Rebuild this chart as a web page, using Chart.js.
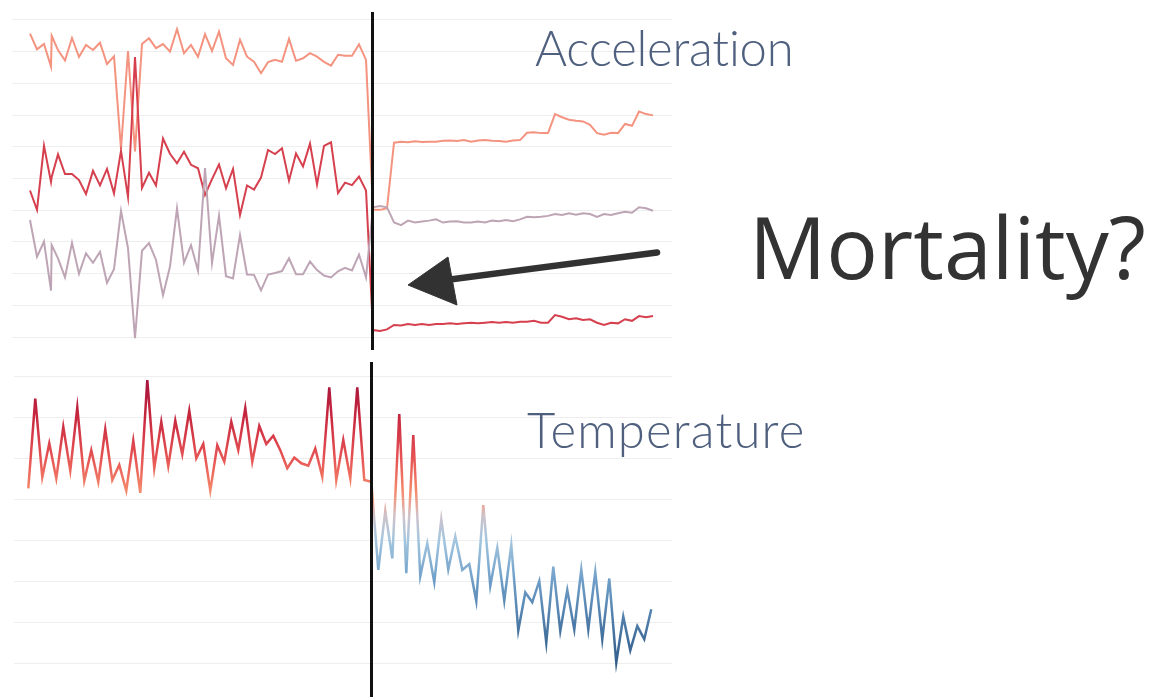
<!DOCTYPE html>
<html>
<head>
<meta charset="utf-8">
<script src="https://cdn.jsdelivr.net/npm/chart.js@4.4.1/dist/chart.umd.min.js"></script>
<style>
  html, body { margin: 0; padding: 0; background: #fff; }
  body { width: 1155px; height: 697px; position: relative; overflow: hidden; }
  .box { position: absolute; }
  .label { position: absolute; white-space: nowrap; line-height: 1; }
  .panel-title { font-family: "Lato", sans-serif; font-weight: 300; font-size: 49px; color: #4f607e; }
  #mortality { font-family: "Open Sans", sans-serif; font-size: 86px; color: #333; left: 749px; top: 203px; }
</style>
</head>
<body>
<div class="box" id="accelBox" style="left:12px; top:12px; width:660px; height:338px;"><canvas id="chartAccel"></canvas></div>
<div class="box" id="tempBox" style="left:14px; top:362px; width:658px; height:335px;"><canvas id="chartTemp"></canvas></div>

<div class="label panel-title" style="left:535px; top:23px; letter-spacing:-0.2px;">Acceleration</div>
<div class="label panel-title" style="left:527px; top:405px; letter-spacing:1.2px;">Temperature</div>
<div class="label" id="mortality">Mortality?</div>

<svg class="box" style="left:0; top:0;" width="1155" height="697">
  <defs><filter id="soft"><feGaussianBlur stdDeviation="0.7"/></filter></defs>
  <g filter="url(#soft)" fill="#333" stroke="#333">
    <line x1="450" y1="279.5" x2="657" y2="252.5" stroke-width="6.5" stroke-linecap="round"/>
    <polygon points="408,285 448,257 457,305" stroke-width="1" stroke-linejoin="round"/>
  </g>
</svg>

<script>
/* time steps (sample index); the acceleration trace has one extra sample just after step 3 */
const accelSteps = [0, 1, 2, 3, 3.1].concat(Array.from({ length: 86 }, (_, i) => i + 4));
const tempSteps = Array.from({ length: 90 }, (_, i) => i);

/* acceleration, three axes (arbitrary units, 1 unit = one gridline) */
const accelHigh = [9.57, 9.07, 9.24, 8.53, 9.50, 9.05, 8.72, 9.43, 8.83, 9.21, 9.05, 9.28, 8.61, 8.85, 5.93, 9.02,
  5.85, 9.24, 9.42, 9.11, 9.24, 9.00, 9.71, 8.95, 9.21, 8.84, 9.55, 9.02, 9.63, 8.79, 8.58, 9.37, 8.84, 8.68, 8.32,
  8.67, 8.74, 8.68, 9.40, 8.71, 8.79, 8.95, 8.84, 8.68, 8.56, 8.90, 8.87, 8.87, 9.23, 8.74,
  4.01, 4.01, 4.06, 6.13, 6.16, 6.14, 6.17, 6.15, 6.16, 6.16, 6.19, 6.20, 6.18, 6.21, 6.16, 6.20, 6.21, 6.19, 6.18,
  6.16, 6.20, 6.21, 6.44, 6.46, 6.43, 6.43, 7.03, 6.93, 6.85, 6.82, 6.80, 6.69, 6.43, 6.38, 6.44, 6.43, 6.72, 6.66,
  7.11, 7.03, 6.99];
const accelMid = [4.62, 4.01, 6.03, 4.89, 5.05, 5.76, 5.14, 5.14, 4.95, 4.51, 5.24, 4.78, 5.30, 4.53, 5.87, 4.42,
  8.83, 4.70, 5.18, 4.78, 6.26, 5.78, 5.48, 5.84, 5.43, 5.32, 4.48, 4.98, 5.44, 4.69, 5.30, 3.85, 4.78, 4.65, 5.03,
  5.90, 5.77, 5.95, 4.93, 5.79, 5.38, 6.10, 4.81, 6.03, 6.14, 4.54, 4.87, 4.79, 5.06, 4.62,
  0.22, 0.19, 0.24, 0.38, 0.36, 0.41, 0.38, 0.41, 0.38, 0.41, 0.41, 0.43, 0.41, 0.43, 0.45, 0.43, 0.45, 0.47, 0.45,
  0.47, 0.45, 0.48, 0.48, 0.51, 0.45, 0.45, 0.69, 0.64, 0.56, 0.59, 0.54, 0.56, 0.45, 0.38, 0.45, 0.43, 0.56, 0.51,
  0.66, 0.62, 0.66];
const accelLow = [3.69, 2.53, 3.01, 1.46, 2.90, 2.48, 1.88, 2.97, 1.99, 2.64, 2.34, 2.69, 1.71, 2.14, 3.98, 2.80,
  -0.04, 2.72, 2.96, 2.43, 1.32, 2.22, 4.06, 2.34, 2.90, 2.09, 5.33, 2.33, 3.83, 1.92, 1.85, 3.22, 1.97, 1.96, 1.47,
  1.97, 2.02, 2.08, 2.48, 1.98, 1.98, 2.38, 2.11, 1.94, 1.88, 2.07, 2.18, 2.10, 2.60, 1.88,
  4.09, 4.13, 4.09, 3.61, 3.53, 3.67, 3.61, 3.64, 3.67, 3.71, 3.61, 3.64, 3.65, 3.61, 3.61, 3.64, 3.61, 3.67, 3.65,
  3.69, 3.65, 3.71, 3.79, 3.78, 3.79, 3.82, 3.88, 3.85, 3.90, 3.86, 3.90, 3.88, 3.79, 3.88, 3.85, 3.90, 3.95, 3.92,
  4.09, 4.06, 3.98];

/* temperature (arbitrary units, 1 unit = one gridline) */
const temperature = [4.27, 6.46, 4.54, 5.37, 4.51, 5.77, 4.70, 6.24, 4.45, 5.20, 4.43, 5.71, 4.47, 4.84, 4.21, 5.43,
  4.16, 6.91, 4.76, 5.89, 4.81, 5.92, 5.10, 6.16, 5.00, 5.35, 4.21, 5.32, 4.92, 5.89, 5.20, 6.23, 4.92, 5.79, 5.35,
  5.55, 5.20, 4.76, 5.02, 4.88, 4.82, 5.24, 4.55, 6.73, 4.47, 5.45, 4.51, 6.73, 4.47, 4.43,
  2.28, 3.71, 2.56, 6.08, 2.20, 5.57, 2.13, 2.93, 1.98, 3.51, 2.29, 3.10, 2.28, 2.42, 1.52, 3.86, 1.89, 2.82, 1.53,
  2.89, 0.80, 1.73, 1.49, 2.01, 0.51, 2.36, 0.79, 1.79, 0.83, 2.29, 0.83, 2.23, 0.59, 2.07, 0.02, 1.14, 0.32, 0.91,
  0.59, 1.32];

const accelGrid = [0, 1, 2, 3, 4, 5, 6, 7, 8, 9, 10];
const tempGrid = [0, 1, 2, 3, 4, 5, 6, 7];
const eventStep = 48.9;   // the black "event" line

/* temperature colour ramp: value -> colour */
const tempRamp = [
  [7.0, "#a3123b"], [6.0, "#c8283f"], [5.0, "#e65454"], [4.2, "#f48a6c"],
  [3.85, "#e7a99c"], [3.6, "#cfc3cb"], [3.0, "#a3c6df"], [2.0, "#6d9dc7"],
  [0.5, "#3f6b99"], [0.0, "#355e8b"]
];

function pts(xs, ys) { return xs.map((x, i) => ({ x, y: ys[i] })); }

const eventLine = {
  id: "eventLine",
  afterDatasetsDraw(chart) {
    const c = chart.ctx;
    const x = Math.round(chart.scales.x.getPixelForValue(eventStep)) + 0.5;
    c.save();
    c.strokeStyle = "#111";
    c.lineWidth = 3;
    c.beginPath();
    c.moveTo(x, 0);
    c.lineTo(x, chart.height);
    c.stroke();
    c.restore();
  }
};

function baseOptions(xMin, xMax, yMin, yMax, grid) {
  return {
    responsive: true,
    maintainAspectRatio: false,
    animation: false,
    layout: { padding: 0 },
    plugins: { legend: { display: false }, tooltip: { enabled: false } },
    elements: { point: { radius: 0 }, line: { tension: 0 } },
    scales: {
      x: { type: "linear", min: xMin, max: xMax, display: false },
      y: {
        type: "linear", min: yMin, max: yMax,
        afterBuildTicks: s => { s.ticks = grid.map(v => ({ value: v })); },
        ticks: { display: false },
        border: { display: false },
        grid: { color: "#eeeeee", lineWidth: 1, drawTicks: false }
      }
    }
  };
}

let tempGradient = null;
function tempColor(ctx) {
  const chart = ctx.chart;
  if (!chart.chartArea) return "#e65454";
  if (!tempGradient) {
    const y = chart.scales.y;
    const top = y.getPixelForValue(tempRamp[0][0]);
    const bot = y.getPixelForValue(tempRamp[tempRamp.length - 1][0]);
    tempGradient = chart.ctx.createLinearGradient(0, top, 0, bot);
    tempRamp.forEach(([v, col]) => {
      tempGradient.addColorStop((y.getPixelForValue(v) - top) / (bot - top), col);
    });
  }
  return tempGradient;
}

document.addEventListener("DOMContentLoaded", () => {
  new Chart(document.getElementById("chartAccel"), {
    type: "line",
    data: {
      datasets: [
        { data: pts(accelSteps, accelHigh), borderColor: "#f4937f", borderWidth: 2, order: 2 },
        { data: pts(accelSteps, accelMid), borderColor: "#d6404e", borderWidth: 2, order: 1 },
        { data: pts(accelSteps, accelLow), borderColor: "#bea5b5", borderWidth: 2, order: 0 }
      ]
    },
    options: baseOptions(-2.571, 91.71, -0.41, 10.25, accelGrid),
    plugins: [eventLine]
  });

  new Chart(document.getElementById("chartTemp"), {
    type: "line",
    data: {
      datasets: [
        { data: pts(tempSteps, temperature), borderColor: tempColor, borderWidth: 2.5 }
      ]
    },
    options: baseOptions(-2.04, 91.96, -0.82, 7.35, tempGrid),
    plugins: [eventLine]
  });
});
</script>
</body>
</html>
